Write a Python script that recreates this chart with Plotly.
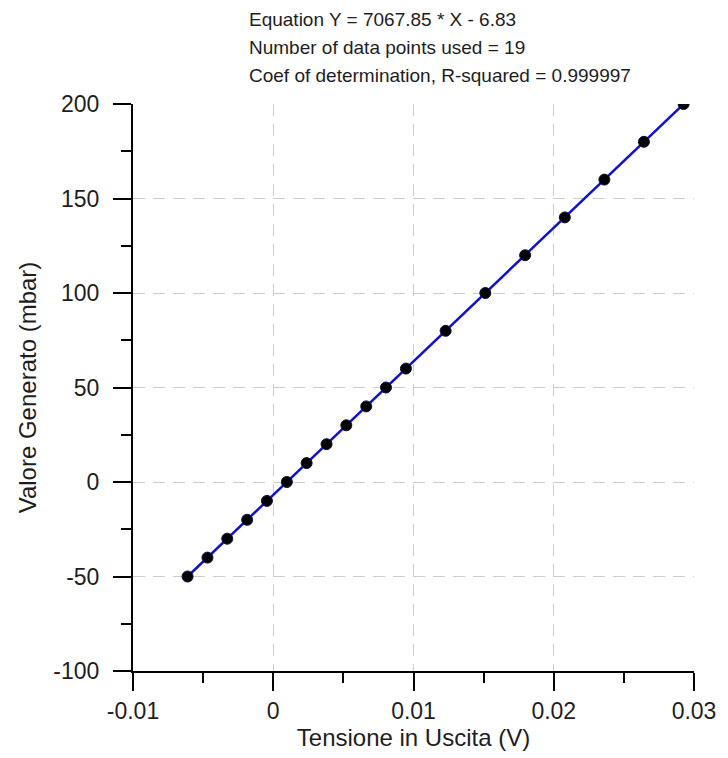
import plotly.graph_objects as go

# Data
tensione = [-0.00611, -0.00469, -0.00328, -0.00186, -0.00045, 0.00097, 0.00238,
            0.00380, 0.00521, 0.00663, 0.00804, 0.00946, 0.01229, 0.01512,
            0.01796, 0.02079, 0.02361, 0.02643, 0.02926]
valore = [-50, -40, -30, -20, -10, 0, 10, 20, 30, 40, 50, 60, 80, 100,
          120, 140, 160, 180, 200]

slope = 7067.85
intercept = -6.83
n_points = 19
r_squared = "0.999997"

x_ticks = [-0.01, 0, 0.01, 0.02, 0.03]
x_ticktext = ["-0.01", "0", "0.01", "0.02", "0.03"]
y_ticks = [-100, -50, 0, 50, 100, 150, 200]
y_ticktext = ["-100", "-50", "0", "50", "100", "150", "200"]

# page body has an 8px default margin, so the figure is slightly smaller
W, H = 720, 750
L, R, T, B = 125, 27, 96, 86

fit_x = [min(tensione), max(tensione)]
fit_y = [slope * v + intercept for v in fit_x]

fig = go.Figure()
fig.add_trace(go.Scatter(x=fit_x, y=fit_y, mode="lines",
                         line=dict(color="#1212cc", width=2.5), hoverinfo="skip"))
fig.add_trace(go.Scatter(x=tensione, y=valore, mode="markers",
                         marker=dict(color="black", size=11,
                                     line=dict(color="#101040", width=1))))

font_family = "Liberation Sans, Arial, sans-serif"
txt_color = "#1e1e1e"

axis_common = dict(
    showline=True, linecolor="black", linewidth=2, mirror=False,
    ticks="outside", ticklen=18, tickwidth=2, tickcolor="black",
    showgrid=True, gridcolor="#cdcdcd", gridwidth=1, griddash="12px,8px",
    zeroline=False, tickfont=dict(size=23, color=txt_color, family=font_family),
)

fig.update_xaxes(range=[-0.01, 0.03], tickvals=x_ticks, ticktext=x_ticktext,
                 ticklabelstandoff=0,
                 minor=dict(ticks="outside", ticklen=10, tickwidth=2, tickcolor="black",
                            dtick=0.005, tick0=0, showgrid=False),
                 title=dict(text="Tensione in Uscita (V)", standoff=6,
                            font=dict(size=24, color=txt_color, family=font_family)),
                 **axis_common)
fig.update_yaxes(range=[-100, 200], tickvals=y_ticks, ticktext=y_ticktext,
                 ticklabelstandoff=9,
                 minor=dict(ticks="outside", ticklen=10, tickwidth=2, tickcolor="black",
                            dtick=25, tick0=0, showgrid=False),
                 title=dict(text="Valore Generato (mbar)", standoff=10,
                            font=dict(size=24, color=txt_color, family=font_family)),
                 **axis_common)

plot_h = H - T - B
plot_w = W - L - R
lines = [
    f"Equation Y = {slope} * X - {abs(intercept)}",
    f"Number of data points used = {n_points}",
    f"Coef of determination, R-squared = {r_squared}",
]
centers = [11, 39, 67]
for txt, yc in zip(lines, centers):
    fig.add_annotation(text=txt, xref="paper", yref="paper",
                       x=(240 - L) / plot_w, y=1 + (T - yc) / plot_h,
                       xanchor="left", yanchor="middle", showarrow=False,
                       font=dict(size=19, color=txt_color, family=font_family))

fig.update_layout(width=W, height=H, margin=dict(l=L, r=R, t=T, b=B),
                  plot_bgcolor="white", paper_bgcolor="white", showlegend=False,
                  font=dict(family=font_family))

fig.write_html("out.html")
